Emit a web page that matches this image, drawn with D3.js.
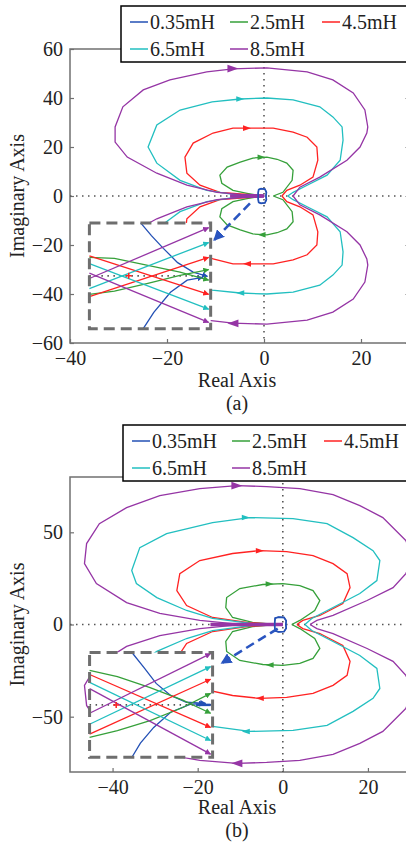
<!DOCTYPE html>
<html>
<head>
<meta charset="utf-8">
<script src="https://cdn.jsdelivr.net/npm/d3@7"></script>
<style>
body { margin: 0; background: #fff; }
text { font-family: "Liberation Serif", "Times New Roman", serif; fill: #222; }
</style>
</head>
<body>
<div id="chart"></div>
<script>
// Legend labels and line colours (one per inductance value)
var seriesNames = ["0.35mH", "2.5mH", "4.5mH", "6.5mH", "8.5mH"];
var seriesColors = ["#2350b5", "#36a03a", "#ff2222", "#22bfc0", "#9535a5"];

// Tick values
var xTicksA = [-40, -20, 0, 20];
var yTicksA = [-60, -40, -20, 0, 20, 40, 60];
var xTicksB = [-40, -20, 0, 20];
var yTicksB = [-50, 0, 50];

// Upper halves of each locus [Re, Im]; lower half is the conjugate
// Panel (a)
var aBlue = [[0.4, 0], [0.5, 1.5], [0.2, 2.8], [-0.6, 3.0], [-1.1, 2.6], [-1.2, 1.2], [-1.2, 0.2]];
var aGreen = [[1.9, 0], [3.9, 1.5], [5.8, 6.4], [6.0, 10.5], [4.7, 13.4], [2.7, 15.0], [0.6, 15.9], [-2.3, 15.5],
  [-4.9, 13.8], [-7.6, 11.8], [-9.1, 8.5], [-8.7, 5.2], [-6.4, 2.3], [-3.5, 1.1], [-1.4, 0.3], [0, 0]];
var aRed = [[3.7, 0], [4.7, 2.3], [7.4, 4.4], [10.1, 7.7], [11.1, 14.6], [10.9, 20.0], [8.9, 24.0], [6.0, 26.1],
  [1.9, 27.7], [-1.4, 27.7], [-6.4, 27.7], [-10.5, 25.7], [-14.6, 21.6], [-16.3, 15.9], [-15.9, 9.3],
  [-13.2, 4.4], [-9.1, 1.5], [-3.5, 0.7], [-0.8, 0.3], [0, 0]];
var aCyan = [[4.9, 0], [6.0, 1.5], [8.9, 4.4], [13.0, 8.5], [15.7, 14.6], [16.3, 22.8], [16.1, 28.2], [14.2, 32.3],
  [11.5, 36.4], [6.0, 39.2], [0.6, 40.0], [-4.9, 39.6], [-10.7, 38.4], [-17.3, 35.1], [-22.1, 29.0],
  [-23.9, 20.0], [-22.1, 13.4], [-17.3, 6.4], [-11.8, 2.3], [-6.4, 0.7], [-0.8, 0.3], [0, 0]];
var aPurple = [[6.0, 0], [7.4, 3.6], [11.5, 7.7], [17.1, 14.6], [19.8, 20.0], [21.2, 25.7], [21.4, 28.2], [20.8, 35.1],
  [18.4, 42.1], [14.2, 47.4], [8.9, 50.7], [0.6, 52.3], [-6.4, 51.9], [-11.8, 50.7], [-19.4, 47.4],
  [-24.9, 43.3], [-29.1, 36.4], [-30.7, 28.2], [-30.7, 22.0], [-28.2, 15.9], [-22.1, 9.3], [-15.9, 4.4],
  [-9.7, 1.5], [-4.9, 0.7], [-0.2, 0.3], [0, 0]];
// direction arrows on the upper branch (mirrored ones point back)
var aArrows = [null, [-0.5, 15.8], [-3.5, 27.7], [-4.9, 39.6], [-6.4, 52.0]];

// Panel (b)
var bBlue = [[0.7, 0], [0.8, 2.0], [0.3, 3.8], [-1.0, 4.0], [-1.8, 3.5], [-1.9, 1.5], [-1.9, 0.2]];
var bGreen = [[2.1, 0], [4.0, 2.2], [7.5, 7.6], [8.7, 13.0], [7.1, 18.4], [4.0, 21.1], [0, 22.2], [-4.7, 21.7],
  [-10.1, 19.5], [-13.2, 14.6], [-13.4, 9.2], [-11.8, 3.8], [-7.1, 1.1], [-1.4, 0], [0, 0]];
var bRed = [[3.3, 0], [4.7, 2.2], [8.7, 4.9], [14.1, 11.4], [15.8, 20.0], [15.1, 27.6], [11.8, 33.0], [7.1, 37.4],
  [0.9, 39.5], [-5.4, 40.1], [-11.8, 38.5], [-19.5, 34.7], [-24.2, 27.6], [-24.9, 18.4], [-22.6, 10.3],
  [-16.5, 3.8], [-8.5, 1.1], [-1.4, 0], [0, 0]];
var bCyan = [[5.2, 0], [6.8, 3.3], [11.8, 9.2], [18.1, 16.8], [22.1, 23.8], [22.8, 34.7], [21.2, 40.0], [16.5, 47.1],
  [10.4, 54.7], [2.4, 57.4], [-7.8, 58.0], [-16.5, 55.3], [-27.3, 49.3], [-33.6, 41.7], [-35.5, 29.3],
  [-34.4, 22.2], [-29.6, 14.6], [-22.6, 7.6], [-16.5, 3.3], [-7.1, 0.5], [-1.4, 0], [0, 0]];
var bPurple = [[6.4, 0], [8.0, 2.2], [11.8, 4.9], [19.8, 13.0], [25.9, 20.0], [28.9, 27.6], [30.6, 36.0], [28.9, 45.5],
  [23.5, 58.0], [18.1, 64.5], [11.8, 70.4], [4.0, 73.7], [-3.8, 74.8], [-10.8, 75.3], [-19.5, 73.7],
  [-28.9, 69.9], [-36.7, 63.4], [-43.1, 54.7], [-46.1, 43.9], [-46.6, 33.0], [-43.8, 22.2], [-36.7, 11.9],
  [-28.9, 6.0], [-19.5, 2.2], [-11.8, 0.5], [-1.4, 0], [0, 0]];
var bArrows = [null, [-3.1, 22.0], [-5.4, 40.0], [-8.7, 58.0], [-10.8, 75.3]];

// Zoomed insets: u in [0,1] across the box, v in [-1,1] up the box
var aInset = [
  [[[0.45, -1.0], [0.54, -0.69], [0.68, -0.31], [0.82, -0.08], [0.95, -0.03]],
   [[0.43, 1.0], [0.52, 0.76], [0.62, 0.52], [0.74, 0.25], [0.87, 0.07], [0.99, -0.01]]],
  [[[0, -0.35], [0.21, -0.29], [0.49, -0.14], [0.76, 0.01], [1, 0.12]],
   [[0, 0.35], [0.21, 0.33], [0.49, 0.2], [0.76, 0.07], [1, -0.08]]],
  [[[0, -0.39], [1, 0.35]], [[0, 0.38], [1, -0.35]]],
  [[[0, -0.24], [1, 0.63]], [[0, 0.23], [1, -0.63]]],
  [[[0, -0.05], [1, 0.91]], [[0, 0.05], [1, -0.88]]]
];
var bInset = [
  [[[0.35, -1.0], [0.42, -0.73], [0.53, -0.43], [0.67, -0.14], [0.83, 0.01], [0.95, 0.03]],
   [[0.35, 1.0], [0.45, 0.71], [0.55, 0.41], [0.67, 0.18], [0.8, 0.05], [0.96, 0.03]]],
  [[[0, -0.62], [0.23, -0.49], [0.5, -0.3], [0.77, -0.05], [1, 0.22]],
   [[0, 0.66], [0.23, 0.54], [0.5, 0.33], [0.77, 0.09], [1, -0.16]]],
  [[[0, -0.56], [1, 0.49]], [[0, 0.58], [1, -0.43]]],
  [[[0, -0.37], [1, 0.73]], [[0, 0.43], [1, -0.68]]],
  [[[0, -0.16], [1, 0.98]], [[0, 0.31], [1, -0.94]]]
];

var svg = d3.select("#chart").append("svg").attr("width", 406).attr("height", 846);
var defs = svg.append("defs");

function addMarker(id, color, size) {
  defs.append("marker")
      .attr("id", id)
      .attr("viewBox", "0 0 10 10")
      .attr("refX", 9).attr("refY", 5)
      .attr("markerUnits", "userSpaceOnUse")
      .attr("markerWidth", size).attr("markerHeight", size)
      .attr("orient", "auto")
    .append("path")
      .attr("d", "M0,0L10,5L0,10z")
      .attr("fill", color);
}
seriesColors.forEach(function(c, i) { addMarker("m" + i, c, 6); });
addMarker("mDash", "#2a55c0", 11);

function drawPanel(p) {
  var g = svg.append("g");
  var x = d3.scaleLinear().domain(p.xDomain).range([p.left, p.right]);
  var y = d3.scaleLinear().domain(p.yDomain).range([p.bottom, p.top]);
  var line = d3.line().x(function(d) { return x(d[0]); }).y(function(d) { return y(d[1]); });

  // frame
  g.append("rect")
    .attr("x", p.left).attr("y", p.top)
    .attr("width", p.right - p.left).attr("height", p.bottom - p.top)
    .attr("fill", "none").attr("stroke", "#707070").attr("stroke-width", 1.5);

  var xAxis = g.append("g").attr("transform", "translate(0," + p.bottom + ")")
    .call(d3.axisBottom(x).tickValues(p.xTicks).tickSize(-4).tickPadding(p.xPad));
  var yAxis = g.append("g").attr("transform", "translate(" + p.left + ",0)")
    .call(d3.axisLeft(y).tickValues(p.yTicks).tickSize(-4).tickPadding(7));
  var rAxis = g.append("g").attr("transform", "translate(" + p.right + ",0)")
    .call(d3.axisRight(y).tickValues(p.yTicks).tickSize(-4).tickFormat(""));
  [xAxis, yAxis, rAxis].forEach(function(a) {
    a.select(".domain").remove();
    a.selectAll("line").attr("stroke", "#707070").attr("stroke-width", 1.2);
    a.selectAll("text").style("font-family", '"Liberation Serif", serif').style("font-size", "20px").attr("fill", "#222");
  });

  // dotted zero lines
  g.append("line").attr("x1", p.left).attr("x2", p.right).attr("y1", y(0)).attr("y2", y(0))
    .attr("stroke", "#555").attr("stroke-width", 1.6).attr("stroke-dasharray", "1.5,4.5");
  g.append("line").attr("x1", x(0)).attr("x2", x(0)).attr("y1", p.top).attr("y2", p.bottom)
    .attr("stroke", "#555").attr("stroke-width", 1.6).attr("stroke-dasharray", "1.5,4.5");

  // loci (upper half followed by its conjugate)
  p.curves.forEach(function(c, i) {
    var loop = c.concat(c.slice().reverse().map(function(d) { return [d[0], -d[1]]; }));
    g.append("path").attr("d", line(loop))
      .attr("fill", "none").attr("stroke", seriesColors[i]).attr("stroke-width", 1.3);
  });

  // thick overlap along the negative real axis
  g.append("line")
    .attr("x1", x(p.overlapFrom)).attr("x2", x(0)).attr("y1", y(0)).attr("y2", y(0))
    .attr("stroke", seriesColors[4]).attr("stroke-width", 3.5);

  // direction arrows
  p.arrows.forEach(function(a, i) {
    if (!a) return;
    var s = i == 4 ? 5.5 : 4;
    [[a[0], a[1], 1], [a[0], -a[1], -1]].forEach(function(q) {
      g.append("path")
        .attr("d", "M" + (-s) + "," + (-s * 0.7) + "L" + s + ",0L" + (-s) + "," + (s * 0.7) + "Z")
        .attr("transform", "translate(" + x(q[0]) + "," + y(q[1]) + ") scale(" + q[2] + ",1)")
        .attr("fill", seriesColors[i]);
    });
  });

  // inset
  var bx0 = x(p.box[0]), bx1 = x(p.box[1]), by0 = y(p.box[2]), by1 = y(p.box[3]);
  var u = d3.scaleLinear().domain([0, 1]).range([bx0, bx1 - 2]);
  var v = d3.scaleLinear().domain([-1, 1]).range([by1, by0]);
  var iline = d3.line().x(function(d) { return u(d[0]); }).y(function(d) { return v(d[1]); });
  g.append("rect").attr("x", bx0).attr("y", by0).attr("width", bx1 - bx0).attr("height", by1 - by0)
    .attr("fill", "#fff");
  g.append("line").attr("x1", bx0).attr("x2", bx1).attr("y1", v(0)).attr("y2", v(0))
    .attr("stroke", "#555").attr("stroke-width", 1.6).attr("stroke-dasharray", "1.5,4.5");
  p.inset.forEach(function(pair, i) {
    pair.forEach(function(pts) {
      g.append("path").attr("d", iline(pts))
        .attr("fill", "none").attr("stroke", seriesColors[i]).attr("stroke-width", 1.3)
        .attr("marker-end", "url(#m" + i + ")");
    });
  });
  if (p.blueTail) {
    g.append("line").attr("x1", u(p.blueTail)).attr("x2", u(1)).attr("y1", v(0)).attr("y2", v(0))
      .attr("stroke", seriesColors[0]).attr("stroke-width", 2.5);
  }
  // red cross on the real axis in the inset
  g.append("path")
    .attr("d", "M-3,0H3M0,-3V3")
    .attr("transform", "translate(" + u(p.redCross) + "," + v(0) + ")")
    .attr("stroke", seriesColors[2]).attr("stroke-width", 1.5);
  g.append("rect").attr("x", bx0).attr("y", by0).attr("width", bx1 - bx0).attr("height", by1 - by0)
    .attr("fill", "none").attr("stroke", "#6e6e6e").attr("stroke-width", 3)
    .attr("stroke-dasharray", "11,6");

  // small 0.35mH loop drawn on top at the origin
  g.append("path")
    .attr("d", line(p.curves[0].concat(p.curves[0].slice().reverse().map(function(d) { return [d[0], -d[1]]; }))))
    .attr("fill", "none").attr("stroke", seriesColors[0]).attr("stroke-width", 1.6);

  // dashed pointer from origin to inset
  g.append("line")
    .attr("x1", x(p.pointer[0])).attr("y1", y(p.pointer[1]))
    .attr("x2", x(p.pointer[2])).attr("y2", y(p.pointer[3]))
    .attr("stroke", "#2a55c0").attr("stroke-width", 2.6).attr("stroke-dasharray", "9,5")
    .attr("marker-end", "url(#mDash)");

  // axis titles
  g.append("text").attr("x", 237).attr("y", p.bottom + p.titleGap)
    .attr("text-anchor", "middle").style("font-size", "20px").text("Real Axis");
  g.append("text").attr("x", 237).attr("y", p.bottom + p.titleGap + 23)
    .attr("text-anchor", "middle").style("font-size", "20px").text(p.caption);
  g.append("text")
    .attr("transform", "translate(24," + y(0) + ") rotate(-90)")
    .attr("text-anchor", "middle").style("font-size", "20px").text("Imaginary Axis");

  // legend
  var lg = g.append("g").attr("transform", "translate(" + p.legend[0] + "," + p.legend[1] + ")");
  lg.append("rect").attr("x", 0).attr("y", 0).attr("width", 320).attr("height", 56)
    .attr("fill", "#fff").attr("stroke", "#000").attr("stroke-width", 1.5);
  var cols = [9, 109, 201];
  seriesNames.forEach(function(name, i) {
    var cx = cols[i % 3], cy = i < 3 ? 16 : 43;
    lg.append("line").attr("x1", cx).attr("x2", cx + 18).attr("y1", cy).attr("y2", cy)
      .attr("stroke", seriesColors[i]).attr("stroke-width", 1.5);
    lg.append("text").attr("x", cx + 20).attr("y", cy + 7).style("font-size", "20px").text(name);
  });
}

drawPanel({
  xDomain: [-40, 30], yDomain: [-60, 60],
  left: 70, right: 409.5, top: 49, bottom: 343,
  xTicks: xTicksA, yTicks: yTicksA, xPad: 8,
  curves: [aBlue, aGreen, aRed, aCyan, aPurple], arrows: aArrows,
  overlapFrom: -7,
  box: [-36, -11, -11, -54.2], inset: aInset, redCross: 0.33, blueTail: null,
  pointer: [-2.9, -3, -10.3, -18],
  titleGap: 44, caption: "(a)", legend: [121, 6]
});

drawPanel({
  xDomain: [-50, 30], yDomain: [-80, 80],
  left: 70, right: 410.5, top: 477, bottom: 772,
  xTicks: xTicksB, yTicks: yTicksB, xPad: 8,
  curves: [bBlue, bGreen, bRed, bCyan, bPurple], arrows: bArrows,
  overlapFrom: -17,
  box: [-45.4, -16.5, -15.2, -72], inset: bInset, redCross: 0.22, blueTail: 0.88,
  pointer: [-1.2, -2.2, -14.4, -21],
  titleGap: 42, caption: "(b)", legend: [123, 425]
});
</script>
</body>
</html>
